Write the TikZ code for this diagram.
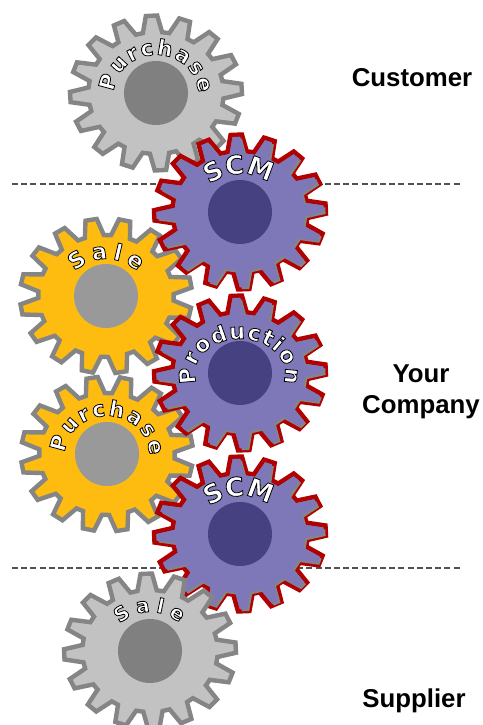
\documentclass[tikz,border=0pt]{standalone}
\usepackage{fontspec}
\setmainfont{Liberation Sans}
\newfontfamily\gearfont{DejaVu Sans}[UprightFont={* Bold}]
\usetikzlibrary{decorations.text}
\definecolor{gearline}{HTML}{858585}
\definecolor{greyfill}{HTML}{C2C2C2}
\definecolor{greyhole}{HTML}{808080}
\definecolor{orangefill}{HTML}{FEBC11}
\definecolor{orangehole}{HTML}{999999}
\definecolor{purplefill}{HTML}{7F78B8}
\definecolor{purplehole}{HTML}{464180}
\definecolor{rimred}{HTML}{B00000}
\definecolor{dashline}{HTML}{505050}
% gear outline: centre (#1,#2), tooth offset #3, inset #4
\newcommand{\gearoutline}[4]{%
  ({#1+1.11*(61-#4)*cos(#3-8.2+0.8*#4)},{#2+(61-#4)*sin(#3-8.2+0.8*#4)})
  \foreach \k [evaluate=\k as \am using {#3+22.5*\k}] in {0,...,15}{
    --({#1+1.11*(61-#4)*cos(\am-8.2+0.8*#4)},{#2+(61-#4)*sin(\am-8.2+0.8*#4)})
    --({#1+1.11*(77.5-#4)*cos(\am-3.8+0.6*#4)},{#2+(77.5-#4)*sin(\am-3.8+0.6*#4)})
    --({#1+1.11*(77.5-#4)*cos(\am+3.8-0.6*#4)},{#2+(77.5-#4)*sin(\am+3.8-0.6*#4)})
    --({#1+1.11*(61-#4)*cos(\am+8.2-0.8*#4)},{#2+(61-#4)*sin(\am+8.2-0.8*#4)})
  } -- cycle}
\newcommand{\plaingear}[5]{% x,y,offset,fill,hole
  \draw[line width=4.4pt,draw=gearline,fill=#4,line join=miter,miter limit=3] \gearoutline{#1}{#2}{#3}{0};
  \fill[#5] (#1,#2) circle[radius=32];}
\newcommand{\rimgear}[3]{% x,y,offset
  \draw[line width=4.4pt,draw=rimred,fill=purplefill,line join=miter,miter limit=3] \gearoutline{#1}{#2}{#3}{0};
  \fill[gearline] \gearoutline{#1+2}{#2-2}{#3}{2.2};
  \fill[purplefill] \gearoutline{#1}{#2}{#3}{2.2};
  \fill[purplehole] (#1,#2) circle[radius=32];}
% text along an arc in a horizontally stretched scope: white letters with black edge
\newcommand{\edgeletter}{\special{pdf:code 1 1 1 rg 0 0 0 RG 2 Tr 0.8 w}}
\newcommand{\arclabel}[8]{% x,y,xradius,yradius,start,end,size,text
  \begin{scope}[shift={(#1,#2)},xscale=#3/#4]
  \path[decorate,decoration={text along path,
     text={|\gearfont\fontsize{#7}{#7}\selectfont\edgeletter|#8},text align={fit to path}}]
     ({#4*cos(#5)},{#4*sin(#5)}) arc[start angle=#5,end angle=#6,radius=#4];
  \end{scope}}
\tikzset{
  side/.style={font=\bfseries\fontsize{25.8}{31}\selectfont,align=center,text=black},
  level/.style={draw=dashline,line width=1.6pt,dash pattern=on 6pt off 3.2pt}}
\begin{document}
\begin{tikzpicture}[x=1pt,y=1pt]
\useasboundingbox (0,0) rectangle (482,725);
\fill[white] (0,0) rectangle (482,725);
\coordinate (a1) at (12,541); \coordinate (a2) at (460,541);
\coordinate (b1) at (12,157); \coordinate (b2) at (460,157);
\draw[level] (a1) -- (a2);
\draw[level] (b1) -- (b2);
\plaingear{156}{632}{3}{greyfill}{greyhole}
\plaingear{106}{429}{10}{orangefill}{orangehole}
\plaingear{107}{271}{10}{orangefill}{orangehole}
\rimgear{240}{513}{2.5}
\rimgear{240}{352}{2.5}
\rimgear{240}{191}{2.5}
\plaingear{150}{74}{2.5}{greyfill}{greyhole}
\arclabel{156}{632}{42}{38}{178}{0}{21.5}{Purchase}
\arclabel{240}{513}{44}{38}{134}{57}{26}{SCM}
\arclabel{106}{428}{42}{38}{138}{42}{22.5}{Sale}
\arclabel{240}{352}{45}{34}{197}{-17}{22}{Production}
\arclabel{107}{271}{42}{38}{178}{-2}{21.5}{Purchase}
\arclabel{240}{191}{44}{38}{134}{57}{26}{SCM}
\arclabel{150}{74}{42}{39}{136}{46}{20}{Sale}
\node[side] (cust) at (412,647) {Customer};
\node[side] (comp) at (421,333) {Your\\Company};
\node[side] (supp) at (414,24) {Supplier};
\end{tikzpicture}
\end{document}
